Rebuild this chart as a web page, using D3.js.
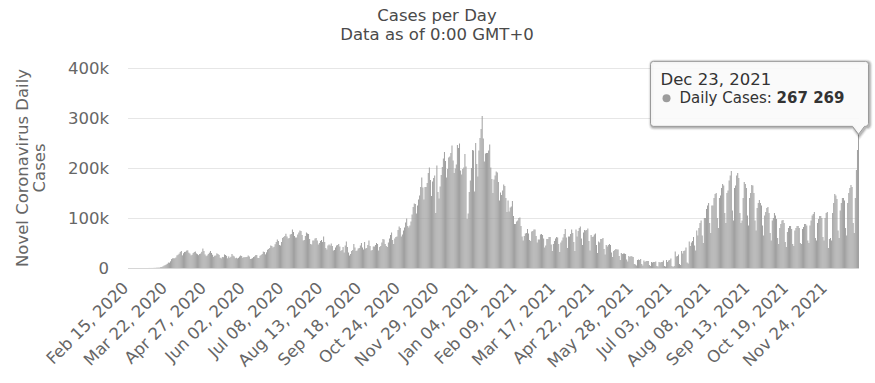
<!DOCTYPE html>
<html><head><meta charset="utf-8">
<script src="https://cdn.jsdelivr.net/npm/d3@7"></script>
<style>
body{margin:0;background:#fff}
svg{display:block}
text{font-family:"DejaVu Sans",Verdana,sans-serif}
</style>
</head><body>
<svg id="c" width="875" height="383"></svg>
<script>
// ---- data ----
const chartTitle = "Cases per Day";
const chartSubtitle = "Data as of 0:00 GMT+0";
const yAxisTitle = ["Novel Coronavirus Daily", "Cases"];
const seriesName = "Daily Cases";
const startDate = "2020-02-15";
const xTickLabels = ["Feb 15, 2020","Mar 22, 2020","Apr 27, 2020","Jun 02, 2020","Jul 08, 2020","Aug 13, 2020","Sep 18, 2020","Oct 24, 2020","Nov 29, 2020","Jan 04, 2021","Feb 09, 2021","Mar 17, 2021","Apr 22, 2021","May 28, 2021","Jul 03, 2021","Aug 08, 2021","Sep 13, 2021","Oct 19, 2021","Nov 24, 2021"];
const yTickValues = [0, 100, 200, 300, 400];
const yTickLabels = ["0", "100k", "200k", "300k", "400k"];
// daily new cases, thousands, one row per week (Sat..Fri)
const dailyCasesK = [
0,0,0,0,0,0,0,
0,0,0,0,0,0,0,
0,0,0,0,0,0.1,0.1,
0.1,0.1,0.2,0.3,0.3,0.5,0.6,
0.7,0.8,1.8,2.1,3.3,4.8,5.7,
7.0,8.5,10.9,10.6,13.4,17.8,19.4,
19.5,19.4,21.0,25.2,26.5,28.7,32.1,
34.0,25.3,29.5,32.1,32.6,34.9,35.4,
30.7,28.9,25.3,26.6,30.0,32.0,33.0,
29.1,27.6,25.7,28.0,29.0,32.4,38.9,
34.0,27.1,23.7,25.2,28.1,30.7,34.0,
30.0,26.5,22.3,24.5,25.0,29.3,28.0,
26.1,20.6,19.3,22.1,21.6,27.2,26.0,
24.3,19.4,23.2,20.3,22.4,28.0,24.7,
23.2,19.6,20.5,19.1,20.3,22.9,25.0,
24.0,20.4,21.6,21.6,21.9,22.2,25.0,
23.0,18.0,18.6,19.6,22.0,23.3,25.7,
26.0,20.2,20.0,24.4,26.1,28.0,32.8,
32.0,27.3,31.3,36.5,38.1,40.0,45.0,
44.0,41.0,42.5,47.6,52.0,57.0,54.0,
46.0,45.0,52.0,60.2,62.0,64.0,68.5,
63.0,59.0,60.0,67.0,68.0,77.0,72.0,
64.0,61.0,61.0,67.0,71.0,75.0,74.0,
66.0,55.0,56.0,64.0,71.0,69.0,68.0,
58.0,48.0,47.0,55.0,55.0,59.0,60.0,
55.0,47.0,50.0,54.0,56.0,52.0,63.0,
52.0,40.0,37.0,45.0,47.0,45.0,49.0,
44.0,35.0,36.0,41.0,45.0,46.0,48.0,
43.0,34.0,36.0,42.0,31.0,45.0,53.0,
42.0,31.0,25.0,28.0,34.0,36.0,48.0,
41.0,34.0,35.0,39.0,40.0,45.0,50.0,
41.0,37.0,52.0,39.0,40.0,46.0,55.0,
44.0,35.0,36.0,43.0,43.0,46.0,50.0,
48.0,35.0,42.0,44.0,51.0,58.0,57.0,
48.0,44.0,42.0,51.0,59.0,66.0,71.0,
56.0,48.0,59.0,62.0,63.0,76.0,83.0,
80.0,63.0,67.0,75.0,81.0,91.0,99.0,
84.0,81.0,85.0,93.0,107.0,122.0,129.0,
128.0,109.0,125.0,137.0,145.0,162.0,181.0,
161.0,137.0,162.0,162.0,170.0,190.0,201.0,
176.0,144.0,173.0,180.0,185.0,110.0,205.0,
152.0,139.0,163.0,186.0,202.0,219.0,232.0,
214.0,181.0,198.0,221.0,223.0,230.0,245.0,
215.0,190.0,199.0,207.0,246.0,240.0,249.0,
195.0,187.0,198.0,201.0,228.0,203.0,98.0,
109.0,152.0,175.0,200.0,236.0,235.0,153.0,
250.0,208.0,183.0,235.0,260.0,278.0,304.0,
259,213,229,230,230,235,247,
201,178,150,177,185,193,191,
172,135,151,146,155,167,164,
140,112,135,113,121,123,134,
104,88,88,93,95,100,101,
84,63,55,64,69,70,78,
69,56,54,73,74,77,77,
64,51,57,57,67,68,66,
59,41,45,58,58,62,62,
47,34,48,54,59,62,61,
48,32,51,55,61,68,78,
61,40,63,63,68,77,70,
52,34,77,63,74,80,83,
59,46,71,76,75,76,79,
54,35,66,62,63,67,69,
46,30,53,51,58,58,60,
38,27,46,43,46,48,46,
31,22,34,36,38,37,37,
24,16,30,28,29,29,28,
17,13,24,22,24,23,22,
8,7,5,16,17,16,18,
8,5,15,12,14,14,14,
6,4,12,11,12,12,13,
4,3,12,11,12,12,15,
4,3,16,12,15,16,19,
4,2,4,33,23,24,27,
8,6,34,29,34,35,41,
11,9,53,44,51,54,62,
45,35,75,65,80,90,95,
65,50,100,100,118,125,130,
90,70,125,125,140,148,150,
100,80,140,145,160,168,165,
110,90,150,155,175,185,194,
115,95,160,165,185,190,180,
110,90,95,140,172,168,160,
105,85,140,150,166,165,150,
95,75,120,130,136,130,125,
85,65,105,112,120,122,110,
70,55,95,100,110,105,98,
60,48,80,88,95,96,90,
52,42,72,80,84,84,78,
48,44,75,80,84,84,80,
50,48,78,82,88,88,85,
55,50,85,95,105,108,112,
60,55,90,98,104,104,100,
62,55,100,110,112,40,58,
60,55,110,130,148,145,138,
75,60,115,130,140,140,135,
80,65,130,150,160,166,162,
90,70,140,196,236,267.269
];

// ---- chart ----
const plot = {left: 128, right: 859, top: 68, bottom: 268};
const barColor = "#9c9c9c";
const labelColor = "#666666";
const svg = d3.select("#c");

const parse = d3.utcParse("%Y-%m-%d");
const fmtDate = d3.utcFormat("%b %d, %Y");
const dates = dailyCasesK.map((_, i) => d3.utcDay.offset(parse(startDate), i));
const cats = dates.map(fmtDate);

const x = d3.scaleBand().domain(cats).range([plot.left, plot.right]).paddingInner(0.12).paddingOuter(0);
const y = d3.scaleLinear().domain([0, 400]).range([plot.bottom, plot.top]);

// title
svg.append("text").attr("x", 437).attr("y", 21).attr("text-anchor", "middle")
  .attr("font-size", 16.5).attr("fill", "#4a4a4a").text(chartTitle);
svg.append("text").attr("x", 437).attr("y", 40).attr("text-anchor", "middle")
  .attr("font-size", 16.5).attr("fill", "#4a4a4a").text(chartSubtitle);

// grid
svg.append("g").selectAll("line").data(yTickValues.filter(v => v > 0)).join("line")
  .attr("x1", plot.left).attr("x2", plot.right)
  .attr("y1", d => Math.round(y(d)) + 0.5).attr("y2", d => Math.round(y(d)) + 0.5)
  .attr("stroke", "#e6e6e6").attr("stroke-width", 1);

// y labels
svg.append("g").selectAll("text").data(yTickValues).join("text")
  .attr("x", 109).attr("y", d => y(d) + 6)
  .attr("text-anchor", "end").attr("font-size", 16.5).attr("fill", labelColor)
  .text((d, i) => yTickLabels[i]);

// y title
const yt = svg.append("text").attr("transform", `translate(28,${(plot.top + plot.bottom) / 2}) rotate(-90)`)
  .attr("text-anchor", "middle").attr("font-size", 16.5).attr("fill", labelColor);
yAxisTitle.forEach((t, i) => yt.append("tspan").attr("x", 0).attr("y", i * 17).text(t));

// bars
svg.append("g").selectAll("rect").data(dailyCasesK).join("rect")
  .attr("x", (d, i) => x(cats[i]))
  .attr("width", x.bandwidth())
  .attr("y", d => y(d))
  .attr("height", d => plot.bottom - y(d))
  .attr("fill", barColor);

// x axis line
svg.append("line").attr("x1", plot.left).attr("x2", plot.right)
  .attr("y1", plot.bottom + 0.5).attr("y2", plot.bottom + 0.5)
  .attr("stroke", "#d6d6d6").attr("stroke-width", 1);

// x labels
svg.append("g").selectAll("text").data(xTickLabels).join("text")
  .attr("text-anchor", "end").attr("font-size", 16.5).attr("fill", labelColor)
  .attr("transform", d => `translate(${x(d) + x.bandwidth() / 2 + 1},289) rotate(-45)`)
  .text(d => d);

// tooltip on the last point
const li = dailyCasesK.length - 1;
const ax = x(cats[li]) + x.bandwidth() / 2, ay = y(dailyCasesK[li]);
const bx1 = ax + 10, by1 = ay - 8, bw = 218, bh = 65;
const bx0 = bx1 - bw, by0 = by1 - bh, r = 3;
const path = `M${bx0 + r},${by0} L${bx1 - r},${by0} Q${bx1},${by0} ${bx1},${by0 + r} L${bx1},${by1 - r} Q${bx1},${by1} ${bx1 - r},${by1} L${ax + 6},${by1} L${ax},${ay} L${ax - 6},${by1} L${bx0 + r},${by1} Q${bx0},${by1} ${bx0},${by1 - r} L${bx0},${by0 + r} Q${bx0},${by0} ${bx0 + r},${by0} Z`;
const tip = svg.append("g");
[3, 2, 1].forEach(o => tip.append("path").attr("d", path).attr("fill", "none")
  .attr("stroke", "#000").attr("stroke-opacity", 0.05 * (4 - o)).attr("stroke-width", o * 2)
  .attr("transform", "translate(1,1)"));
tip.append("path").attr("d", path).attr("fill", "rgba(250,250,250,0.92)").attr("stroke", "#999").attr("stroke-width", 1);
tip.append("text").attr("x", bx0 + 10).attr("y", by0 + 24).attr("font-size", 16.5).attr("fill", "#333")
  .text(cats[li]);
tip.append("circle").attr("cx", bx0 + 16).attr("cy", by0 + 37).attr("r", 4).attr("fill", barColor);
const val = Math.round(dailyCasesK[li] * 1000);
const body = tip.append("text").attr("x", bx0 + 29).attr("y", by0 + 42).attr("font-size", 15).attr("fill", "#333");
body.append("tspan").text(seriesName + ": ");
body.append("tspan").attr("font-weight", "bold").text(d3.format(",")(val).replace(/,/g, " "));
</script>
</body></html>
